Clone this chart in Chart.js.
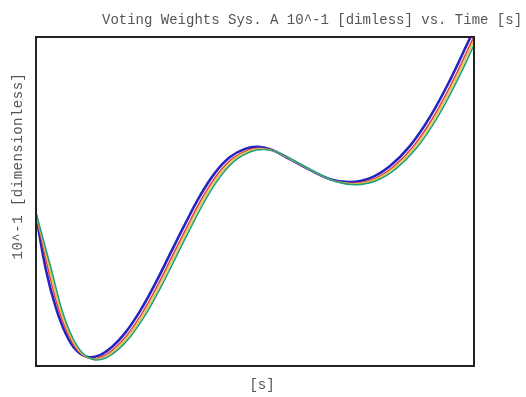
<!DOCTYPE html>
<html><head><meta charset="utf-8">
<script src="https://cdn.jsdelivr.net/npm/chart.js@4/dist/chart.umd.min.js"></script>
<style>html,body{margin:0;padding:0;background:#fff;}#wrap{width:526px;height:397px;}</style>
</head><body><div id="wrap"><canvas id="c" width="526" height="397"></canvas></div>
<script>
const titleText = "Voting Weights Sys. A 10^-1 [dimless] vs. Time [s]";
const yLabel = "10^-1 [dimensionless]";
const xLabel = "[s]";

const blueT = [0,2.28,4.57,6.85,9.13,11.87,14.61,17.35,20.32,23.74,27.17,30.59,34.02,37.44,40.87,44.29,47.72,50.68,53.88,57.99,62.56,67.12,71.69,76.26,80.82,85.39,89.95,94.52,99.09,100.46];
const blueV = [4.59,2.92,1.76,0.97,0.49,0.27,0.33,0.58,1.00,1.67,2.49,3.40,4.31,5.17,5.87,6.35,6.60,6.66,6.57,6.29,5.96,5.68,5.59,5.71,6.08,6.69,7.57,8.69,9.97,10.33];
const redT = [0,2.88,5.17,7.45,9.73,12.47,15.21,17.95,20.92,24.34,27.77,31.19,34.62,38.04,41.47,44.89,48.32,51.28,54.48,58.59,63.16,67.72,72.29,76.86,81.42,85.99,90.55,95.12,99.69,101.06];
const redV = [4.62,2.88,1.72,0.93,0.45,0.23,0.29,0.54,0.96,1.63,2.45,3.36,4.27,5.13,5.83,6.31,6.56,6.62,6.53,6.25,5.92,5.64,5.55,5.67,6.04,6.65,7.53,8.65,9.93,10.29];
const yellowT = [0,3.28,5.57,7.85,10.13,12.87,15.61,18.35,21.32,24.74,28.17,31.59,35.02,38.44,41.87,45.29,48.72,51.68,54.88,58.99,63.56,68.12,72.69,77.26,81.82,86.39,90.95,95.52,100.09,101.46];
const yellowV = [4.64,2.86,1.70,0.91,0.43,0.21,0.27,0.52,0.94,1.61,2.43,3.34,4.25,5.11,5.81,6.29,6.54,6.60,6.51,6.23,5.90,5.62,5.53,5.65,6.02,6.63,7.51,8.63,9.91,10.27];
const greenT = [0,3.68,5.97,8.25,10.53,13.27,16.01,18.75,21.72,25.14,28.57,31.99,35.42,38.84,42.27,45.69,49.12,52.08,55.28,59.39,63.96,68.52,73.09,77.66,82.22,86.79,91.35,95.92,100.49,101.86];
const greenV = [4.66,2.84,1.68,0.89,0.41,0.19,0.25,0.50,0.92,1.59,2.41,3.32,4.23,5.09,5.79,6.27,6.52,6.58,6.49,6.21,5.88,5.60,5.51,5.63,6.00,6.61,7.49,8.61,9.89,10.25];

function pts(t, v){ return t.map((x,i)=>({x:x, y:v[i]})); }

const framePlugin = {
  id:'frame',
  afterDraw(chart){
    const {ctx, chartArea:a} = chart;
    ctx.save();
    ctx.strokeStyle = '#222';
    ctx.lineWidth = 2;
    ctx.strokeRect(a.left, a.top, a.right-a.left, a.bottom-a.top);
    ctx.fillStyle = '#555';
    ctx.font = '14px "Liberation Mono", "DejaVu Sans Mono", monospace';
    ctx.textBaseline = 'middle';
    ctx.textAlign = 'left';
    ctx.fillText(titleText, 102, 20);
    ctx.textAlign = 'center';
    ctx.fillText(xLabel, 262, 385);
    ctx.translate(18, 166);
    ctx.rotate(-Math.PI/2);
    ctx.letterSpacing = '0.5px';
    ctx.fillText(yLabel, 0, 0);
    ctx.restore();
  }
};

const mk = (label, t, v, color, w) => ({
  label, data: pts(t, v), borderColor: color, borderWidth: w,
  pointRadius: 0, fill: false, tension: 0.4
});

new Chart(document.getElementById('c'), {
  type: 'line',
  data: { datasets: [
    mk('green', greenT, greenV, '#20a080', 1.6),
    mk('yellow', yellowT, yellowV, '#e8c840', 1.6),
    mk('red', redT, redV, '#e04050', 1.6),
    mk('blue', blueT, blueV, '#2424c0', 2.6)
  ]},
  options: {
    responsive: false, animation: false,
    layout: { padding: { left: 36, right: 52, top: 37, bottom: 31 } },
    plugins: { legend: { display: false }, title: { display: false }, tooltip: { enabled: false } },
    scales: {
      x: { type: 'linear', min: 0, max: 100, display: false },
      y: { type: 'linear', min: 0, max: 10, display: false }
    }
  },
  plugins: [framePlugin]
});
</script></body></html>
